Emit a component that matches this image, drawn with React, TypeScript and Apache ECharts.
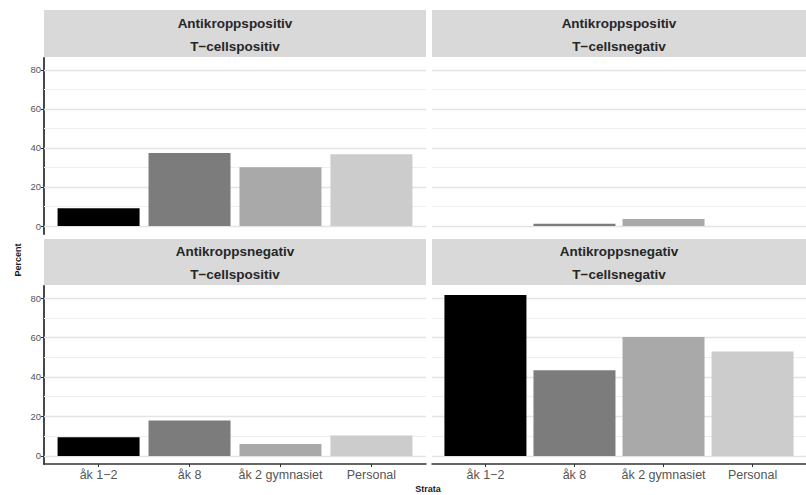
import React, { useEffect, useRef } from "react";
import * as echarts from "echarts";

const categories = ["åk 1−2", "åk 8", "åk 2 gymnasiet", "Personal"];
const barColors = ["#000000", "#7c7c7c", "#a9a9a9", "#cccccc"];
const panelTitles = [
  ["Antikroppspositiv", "T−cellspositiv"],
  ["Antikroppspositiv", "T−cellsnegativ"],
  ["Antikroppsnegativ", "T−cellspositiv"],
  ["Antikroppsnegativ", "T−cellsnegativ"],
];
const abPosTPos = [9.1, 37.4, 30.1, 36.8];
const abPosTNeg = [0, 1.2, 3.6, 0];
const abNegTPos = [9.5, 18.0, 6.0, 10.3];
const abNegTNeg = [81.6, 43.4, 60.3, 52.9];
const panelValues = [abPosTPos, abPosTNeg, abNegTPos, abNegTNeg];
const yTicks = [0, 20, 40, 60, 80];
const majorGrid = [0, 20, 40, 60, 80];
const minorGrid = [10, 30, 50, 70];
const yMin = -4.1;
const yMax = 86.1;

const FONT = "'Liberation Sans', Arial, sans-serif";

export default function App() {
  const ref = useRef<HTMLDivElement>(null);
  useEffect(() => {
    if (!ref.current) return;
    const chart = echarts.init(ref.current, null, { renderer: "svg" });
    const panels = [
      { left: 44, top: 58, height: 176, showY: true, showX: false, stripTop: 10, stripH: 47 },
      { left: 432, top: 58, height: 176, showY: false, showX: false, stripTop: 10, stripH: 47 },
      { left: 44, top: 286, height: 178, showY: true, showX: true, stripTop: 239, stripH: 46 },
      { left: 432, top: 286, height: 178, showY: false, showX: true, stripTop: 239, stripH: 46 },
    ];
    const W = 382;
    const grid = panels.map((p) => ({ left: p.left, top: p.top, width: W, height: p.height }));
    const xAxis = panels.map((p, i) => ({
      type: "value",
      gridIndex: i,
      min: 0.4,
      max: 4.6,
      splitLine: { show: false },
      axisLine: { show: p.showX, onZero: false, lineStyle: { color: "#333333", width: 1.5 } },
      axisTick: {
        show: p.showX,
        customValues: [1, 2, 3, 4],
        length: 3,
        lineStyle: { color: "#333333", width: 1 },
      },
      axisLabel: {
        show: p.showX,
        customValues: [1, 2, 3, 4],
        formatter: (v: number) => categories[Math.round(v) - 1] ?? "",
        color: "#555555",
        fontSize: 12.5,
        fontFamily: FONT,
        margin: 4,
      },
    }));
    const yAxis = panels.map((p, i) => ({
      type: "value",
      gridIndex: i,
      min: yMin,
      max: yMax,
      splitLine: { show: false },
      axisLine: { show: p.showY, onZero: false, lineStyle: { color: "#333333", width: 1.8 } },
      axisTick: {
        show: p.showY,
        customValues: yTicks,
        length: 3,
        lineStyle: { color: "#333333", width: 1 },
      },
      axisLabel: {
        show: p.showY,
        customValues: yTicks,
        color: "#555555",
        fontSize: 9.5,
        fontFamily: FONT,
        margin: 3,
      },
    }));
    const series: any[] = [];
    panels.forEach((p, i) => {
      series.push({
        type: "line",
        xAxisIndex: i,
        yAxisIndex: i,
        data: [],
        z: 1,
        silent: true,
        markLine: {
          silent: true,
          z: 1,
          symbol: "none",
          label: { show: false },
          data: [
            ...minorGrid.map((v) => ({ yAxis: v, lineStyle: { color: "#eeeeee", width: 1, type: "solid" } })),
            ...majorGrid.map((v) => ({ yAxis: v, lineStyle: { color: "#e4e4e4", width: 1.3, type: "solid" } })),
          ],
        },
      });
      series.push({
        type: "bar",
        xAxisIndex: i,
        yAxisIndex: i,
        z: 3,
        barWidth: 82,
        data: panelValues[i].map((v, k) => ({
          value: [k + 1, v],
          itemStyle: { color: barColors[k] },
        })),
      });
    });
    const graphic: any[] = [];
    panels.forEach((p, i) => {
      graphic.push({
        type: "rect",
        shape: { x: p.left, y: p.stripTop, width: W, height: p.stripH },
        style: { fill: "#d9d9d9" },
        silent: true,
        z: 0,
      });
      graphic.push({
        type: "text",
        x: p.left + W / 2 - (i % 2 === 1 ? 4 : 0),
        y: p.stripTop + p.stripH / 2 + 1,
        style: {
          text: panelTitles[i].join("\n"),
          fontSize: 13.5,
          fontWeight: "bold",
          fontFamily: FONT,
          fill: "#262626",
          align: "center",
          verticalAlign: "middle",
          lineHeight: 23,
        },
        silent: true,
        z: 1,
      });
    });
    graphic.push({
      type: "text",
      x: 18,
      y: 260,
      rotation: Math.PI / 2,
      style: {
        text: "Percent",
        fontSize: 9,
        fontWeight: "bold",
        fontFamily: FONT,
        fill: "#1a1a1a",
        align: "center",
        verticalAlign: "middle",
      },
    });
    graphic.push({
      type: "text",
      x: 428,
      y: 489,
      style: {
        text: "Strata",
        fontSize: 9,
        fontWeight: "bold",
        fontFamily: FONT,
        fill: "#1a1a1a",
        align: "center",
        verticalAlign: "middle",
      },
    });
    chart.setOption({
      animation: false,
      backgroundColor: "#ffffff",
      grid,
      xAxis,
      yAxis,
      series,
      graphic,
    });
    return () => chart.dispose();
  }, []);
  return (
    <div
      ref={ref}
      style={{ position: "fixed", left: 0, top: 0, width: 806, height: 495 }}
    />
  );
}
